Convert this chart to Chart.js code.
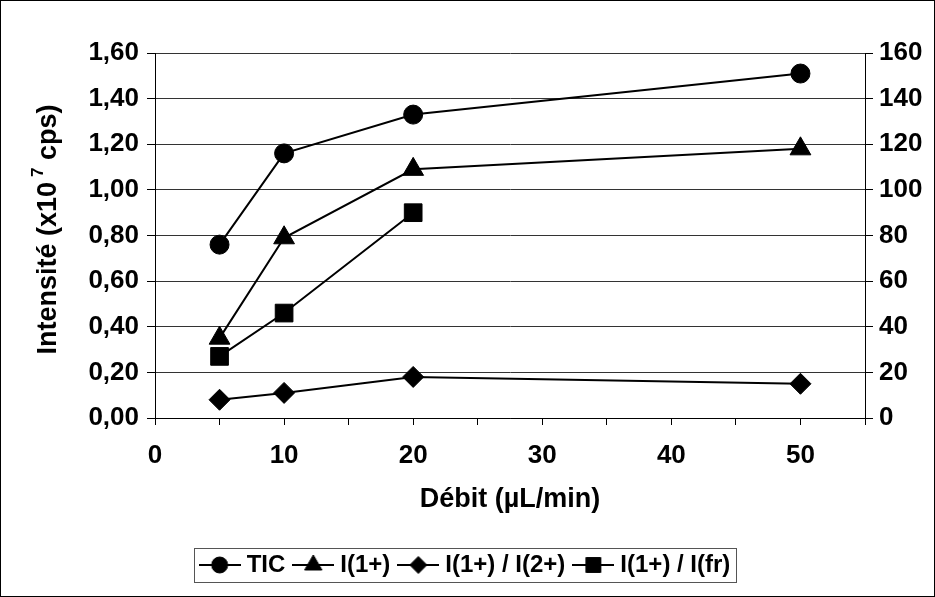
<!DOCTYPE html>
<html><head><meta charset="utf-8">
<script src="https://cdn.jsdelivr.net/npm/chart.js@4.4.0/dist/chart.umd.min.js"></script>
<style>html,body{margin:0;padding:0;background:#fff}</style>
</head><body>
<canvas id="c" width="935" height="597" style="display:block;width:935px;height:597px"></canvas>
<script>
// ---- data ----
const debit      = [5, 10, 20, 50];            // Débit (µL/min)
const ticVals    = [0.76, 1.16, 1.33, 1.51];   // TIC (x10^7 cps), left axis
const i1Vals     = [0.35, 0.79, 1.09, 1.18];   // I(1+), left axis
const r12Vals    = [8, 11, 18, 15];            // I(1+) / I(2+), right axis
const rFrVals    = [27, 46, 90];               // I(1+) / I(fr), right axis
const seriesNames = ['TIC', 'I(1+)', 'I(1+) / I(2+)', 'I(1+) / I(fr)'];
const xTitle = 'Débit (µL/min)';
const yTitleMain = 'Intensité (x10';
const yTitleSup = '7';
const yTitleEnd = ' cps)';

const FONT = '"Liberation Sans", Arial, sans-serif';
Chart.defaults.font.family = FONT;
Chart.defaults.font.size = 26;
Chart.defaults.font.weight = 'bold';
Chart.defaults.color = '#000';

const pts = (xs, ys) => ys.map((y, i) => ({x: xs[i], y: y}));

const styles = [
  {pointStyle: 'circle', radius: 9.5, legendRadius: 8},
  {pointStyle: 'triangle', radius: 12, legendRadius: 10},
  {pointStyle: 'rectRot', radius: 10.5, legendRadius: 8.5},
  {pointStyle: 'rect', radius: 12.5, legendRadius: 10.5}
];

const ICON_W = 42, BOX_W = 30, OVER = (ICON_W - BOX_W) / 2;
function legendIcon(st) {
  const cv = document.createElement('canvas');
  cv.width = ICON_W; cv.height = 22;
  const g = cv.getContext('2d');
  g.strokeStyle = '#000'; g.lineWidth = 2;
  g.beginPath(); g.moveTo(0, 11); g.lineTo(ICON_W, 11); g.stroke();
  g.fillStyle = '#000'; g.lineWidth = 1;
  Chart.helpers.drawPoint(g, {pointStyle: st.pointStyle, radius: st.legendRadius, borderWidth: 1, rotation: 0}, ICON_W / 2, 11);
  return cv;
}

const mk = (label, data, axis, st) => ({
  label: label, data: data, yAxisID: axis,
  borderColor: '#000', backgroundColor: '#000', borderWidth: 2,
  pointStyle: st.pointStyle, pointRadius: st.radius, pointHoverRadius: st.radius,
  pointBackgroundColor: '#000', pointBorderColor: '#000', pointBorderWidth: 1,
  tension: 0, fill: false
});

const datasets = [
  mk(seriesNames[0], pts(debit, ticVals), 'y', styles[0]),
  mk(seriesNames[1], pts(debit, i1Vals), 'y', styles[1]),
  mk(seriesNames[2], pts(debit, r12Vals), 'y1', styles[2]),
  mk(seriesNames[3], pts(debit, rFrVals), 'y1', styles[3])
];

const framePlugin = {
  id: 'frame',
  beforeDraw(chart) {
    const c = chart.ctx;
    c.save(); c.fillStyle = '#fff'; c.fillRect(0, 0, chart.width, chart.height); c.restore();
  },
  afterDraw(chart) {
    const c = chart.ctx;
    c.save();
    c.strokeStyle = '#000'; c.lineWidth = 1;
    c.strokeRect(0.5, 0.5, chart.width - 1, chart.height - 1);
    // legend box
    const hb = chart.legend.legendHitBoxes;
    if (hb && hb.length) {
      let l = Infinity, r = -Infinity, t = Infinity, b = -Infinity;
      hb.forEach(h => { l = Math.min(l, h.left); r = Math.max(r, h.left + h.width); t = Math.min(t, h.top); b = Math.max(b, h.top + h.height); });
      l -= OVER;
      c.strokeStyle = '#555';
      c.strokeRect(Math.round(l - 5) + 0.5, Math.round(t - 5) + 0.5, Math.round(r - l + 10), Math.round(b - t + 10));
    }
    // y-axis title with superscript
    const ca = chart.chartArea;
    const cy = (ca.top + ca.bottom) / 2 - 6;
    c.translate(49, cy);
    c.rotate(-Math.PI / 2);
    c.fillStyle = '#000';
    c.textBaseline = 'middle';
    c.textAlign = 'left';
    const big = 'bold 27px ' + FONT, small = 'bold 17px ' + FONT;
    c.font = big; const w1 = c.measureText(yTitleMain).width, w3 = c.measureText(yTitleEnd).width;
    c.font = small; const w2 = c.measureText(yTitleSup).width + 5;
    let x0 = -(w1 + w2 + w3) / 2;
    c.font = big; c.fillText(yTitleMain, x0, 0);
    c.font = small; c.fillText(yTitleSup, x0 + w1 + 5, -11);
    c.font = big; c.fillText(yTitleEnd, x0 + w1 + w2, 0);
    c.restore();
  }
};

new Chart(document.getElementById('c'), {
  type: 'line',
  data: {datasets: datasets},
  plugins: [framePlugin],
  options: {
    responsive: false, animation: false, devicePixelRatio: 1,
    layout: {padding: {top: 53, bottom: 10, left: 0, right: 0}},
    plugins: {
      tooltip: {enabled: false},
      title: {display: false},
      legend: {
        display: true, position: 'bottom',
        labels: {
          usePointStyle: true, pointStyleWidth: BOX_W, padding: 13,
          font: {size: 24, weight: 'bold'}, color: '#000',
          generateLabels: (chart) => chart.data.datasets.map((ds, i) => ({
            text: ds.label, pointStyle: legendIcon(styles[i]), fillStyle: '#000',
            strokeStyle: '#000', lineWidth: 0, datasetIndex: i, hidden: false
          }))
        }
      }
    },
    scales: {
      x: {
        type: 'linear', position: 'bottom', min: 0, max: 55,
        afterFit: s => { s.height = 122; },
        ticks: {stepSize: 5, autoSkip: false, maxRotation: 0, padding: 15,
          callback: v => (v % 10 === 0 ? String(v) : '')},
        grid: {drawOnChartArea: false, drawTicks: true, tickLength: 7, tickColor: '#000', color: '#000'},
        border: {display: true, color: '#000', width: 1},
        title: {display: true, text: xTitle, font: {size: 27, weight: 'bold'}, padding: {top: 0, bottom: 24}}
      },
      y: {
        type: 'linear', position: 'left', min: 0, max: 1.6,
        afterFit: s => { s.width = 155; },
        ticks: {stepSize: 0.2, padding: 8, callback: v => v.toFixed(2).replace('.', ',')},
        grid: {drawOnChartArea: true, drawTicks: true, tickLength: 8, color: '#333', tickColor: '#000', lineWidth: 1},
        border: {display: true, color: '#000', width: 1}
      },
      y1: {
        type: 'linear', position: 'right', min: 0, max: 160,
        afterFit: s => { s.width = 70; },
        ticks: {stepSize: 20, padding: 6, callback: v => String(v)},
        grid: {drawOnChartArea: false, drawTicks: true, tickLength: 8, tickColor: '#000'},
        border: {display: true, color: '#000', width: 1}
      }
    }
  }
});
</script>
</body></html>
